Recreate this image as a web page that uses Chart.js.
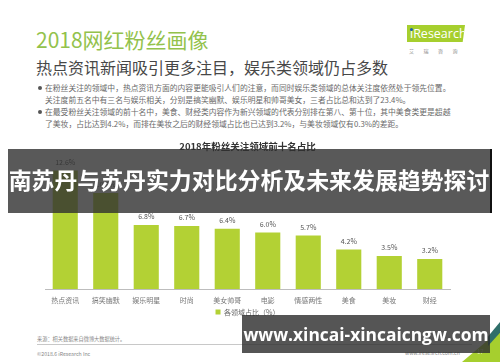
<!DOCTYPE html>
<html>
<head>
<meta charset="utf-8">
<script src="https://cdn.jsdelivr.net/npm/chart.js@4/dist/chart.umd.min.js"></script>
<style>
  html, body { margin: 0; padding: 0; background: #fff; }
  body { width: 500px; height: 362px; position: relative; overflow: hidden;
         font-family: "Noto Sans CJK SC", "Noto Sans", sans-serif; }
  .abs { position: absolute; white-space: nowrap; }
  .title { left: 36px; top: 25px; font-size: 21px; line-height: 28px; color: #93c24c; }
  .subtitle { left: 36px; top: 56px; font-size: 16px; line-height: 22px; color: #474747; }
  .bullet { font-size: 7.8px; line-height: 10px; color: #6a6a6a; }
  .bullet.dot::before { content: ""; position: absolute; left: -7px; top: 3px;
         width: 4px; height: 4px; border-radius: 50%; background: #555; }
  .logo { left: 407px; top: 25px; width: 58px; height: 17px; background: #a6cf2e;
          clip-path: polygon(0 0, 100% 0, 96% 100%, 0 100%); }
  .logo span { position: absolute; left: 3px; top: 0; font-family: "Open Sans", sans-serif;
          font-size: 12.5px; line-height: 17px; color: #fff; }
  .logo i { position: absolute; left: 3px; top: 3px; width: 3px; height: 3px;
          border-radius: 50%; background: #1f5fa8; }
  .logo-cn { left: 409px; top: 47px; font-size: 5px; color: #888; letter-spacing: 9.5px; }
  #wrap { position: absolute; left: 0; top: 138px; width: 500px; height: 191.4px; }
  .band { left: 8px; top: 149px; width: 482px; height: 64px; background: rgba(48,48,48,0.8);
          border-right: 2px solid #111; }
  .band span { position: absolute; left: 0; width: 482px; top: 15px; text-align: center;
          font-size: 22.9px; line-height: 30px; font-weight: bold; color: #fff; }
  .small { font-size: 5.2px; color: #888; }
  .rule { left: 37px; top: 344px; width: 435px; height: 1px; background: #c8c8c8; }
  .wm { left: 242px; top: 315px; width: 248px; height: 38px; background: rgba(48,48,48,0.82); }
  .wm span { position: absolute; left: 0; width: 248px; top: 8px; text-align: center;
          font-family: "Open Sans", sans-serif; font-weight: bold; font-size: 17.4px;
          line-height: 22px; color: #fff; }
  .corner { left: 462px; top: 330px; width: 38px; height: 32px; background: #a6cf2e;
          clip-path: polygon(100% 0, 100% 100%, 0 100%); }
  .stripe { left: 488px; top: 322px; width: 12px; height: 24px; background: #2f6f6a;
          clip-path: polygon(100% 0, 100% 45%, 0 100%, 0 60%); }
  .page { left: 477px; top: 347px; font-size: 6px; color: #dfe9b8; }
</style>
</head>
<body>
<div class="abs title">2018网红粉丝画像</div>
<div class="abs logo"><span>iResearch</span><i></i></div>
<div class="abs logo-cn">艾瑞咨询</div>
<div class="abs subtitle">热点资讯新闻吸引更多注目，娱乐类领域仍占多数</div>
<div class="abs bullet dot" style="left:45px;top:83px">在粉丝关注的领域中，热点资讯方面的内容更能吸引人们的注意，而同时娱乐类领域的总体关注度依然处于领先位置。</div>
<div class="abs bullet" style="left:45px;top:95px">关注度前五名中有三名与娱乐相关，分别是搞笑幽默、娱乐明星和帅哥美女，三者占比总和达到了23.4%。</div>
<div class="abs bullet dot" style="left:45px;top:107px">在最受粉丝关注领域的前十名中，美食、财经类内容作为新兴领域的代表分别排在第八、第十位，其中美食类更是超越</div>
<div class="abs bullet" style="left:45px;top:119px">了美妆，占比达到4.2%，而排在美妆之后的财经领域占比也已达到3.2%，与美妆领域仅有0.3%的差距。</div>

<div id="wrap"><canvas id="chart"></canvas></div>

<div class="abs small" style="left:37px;top:335px">来源：相关数据来自微博大数据统计。</div>
<div class="abs rule"></div>
<div class="abs small" style="left:37px;top:350px">©2018.6 iResearch Inc</div>
<div class="abs small" style="left:405px;top:349px">www.iresearch.com.cn</div>
<div class="abs corner"></div>
<div class="abs stripe"></div>
<div class="abs page">17</div>

<div class="abs band"><span>南苏丹与苏丹实力对比分析及未来发展趋势探讨</span></div>
<div class="abs wm"><span>www.xincai-xincaicngw.com</span></div>

<script>
// data
const categories = ['热点资讯', '搞笑幽默', '娱乐明星', '时尚', '美女帅哥', '电影', '情感两性', '美食', '美妆', '财经'];
const shares = [12.6, 10.2, 6.8, 6.7, 6.4, 6.0, 5.7, 4.2, 3.5, 3.2];
const seriesName = '各领域占比（%）';
const chartTitle = '2018年粉丝关注领域前十名占比';

const green = '#b3d134';
const cjk = 'Noto Sans CJK SC';

// value labels above each bar
const valueLabels = {
  id: 'valueLabels',
  afterDatasetsDraw(chart) {
    const ctx = chart.ctx;
    const meta = chart.getDatasetMeta(0);
    ctx.save();
    ctx.font = '7px ' + cjk;
    ctx.fillStyle = '#555';
    ctx.textAlign = 'center';
    ctx.textBaseline = 'middle';
    meta.data.forEach((bar, i) => {
      ctx.fillText(shares[i].toFixed(1) + '%', bar.x, bar.y - 8.5);
    });
    ctx.restore();
  },
};

new Chart(document.getElementById('chart'), {
  type: 'bar',
  data: {
    labels: categories,
    datasets: [{
      label: seriesName,
      data: shares,
      backgroundColor: green,
      borderWidth: 0,
      barPercentage: 0.62,
      categoryPercentage: 1,
    }],
  },
  options: {
    responsive: true,
    maintainAspectRatio: false,
    animation: false,
    devicePixelRatio: 1,
    layout: {padding: {left: 45, right: 50, top: 0, bottom: 4}},
    plugins: {
      title: {
        display: true,
        text: chartTitle,
        color: '#333',
        font: {family: cjk, size: 9.5, weight: 'bold'},
        padding: {top: 3, bottom: 5},
      },
      legend: {
        position: 'bottom',
        labels: {
          boxWidth: 5,
          boxHeight: 5,
          padding: 4,
          color: '#666',
          font: {family: cjk, size: 7},
        },
      },
      tooltip: {enabled: false},
    },
    scales: {
      x: {
        // tick marks hidden, tickLength only used as the gap under the axis line
        grid: {display: false, drawTicks: true, tickLength: 7},
        border: {display: true, color: '#bdbdbd'},
        ticks: {color: '#777', padding: 0, font: {family: cjk, size: 7}},
      },
      y: {
        display: false,
        min: 0,
        max: 14,
      },
    },
  },
  plugins: [valueLabels],
});
</script>
</body>
</html>
